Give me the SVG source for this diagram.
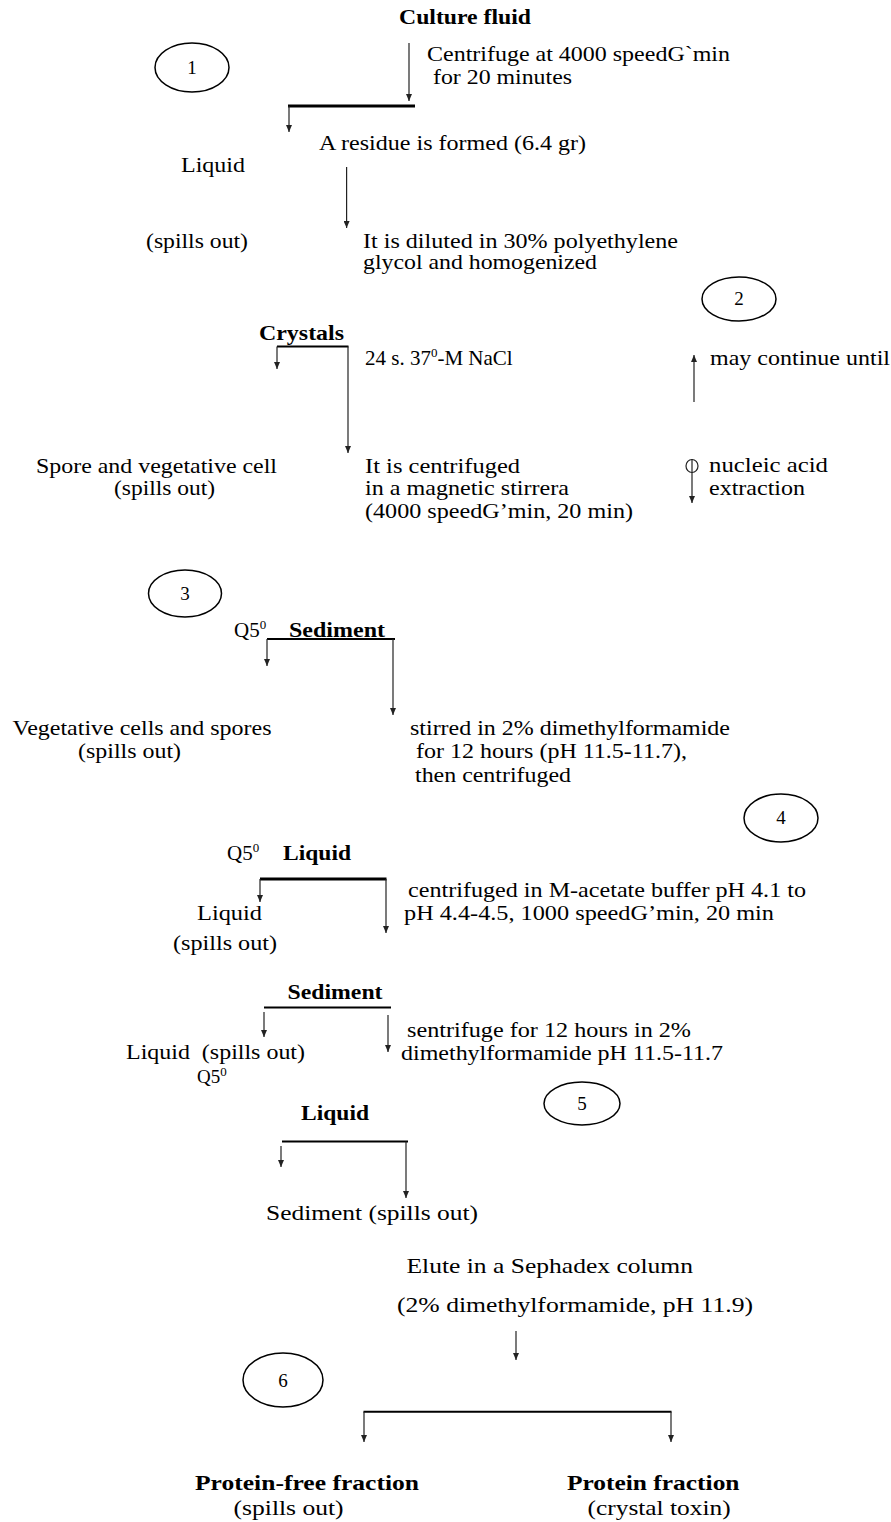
<svg xmlns="http://www.w3.org/2000/svg" width="891" height="1522" viewBox="0 0 891 1522">
<style>
.t{font-family:"Liberation Serif","Times New Roman",serif;font-size:21px;fill:#000}
.b{font-weight:bold}
.n{font-size:19px;text-anchor:middle}
.el{fill:none;stroke:#000;stroke-width:1.5}
.ln{stroke:#222;stroke-width:1.2;fill:none}
.ar{marker-end:url(#ah)}
.bar{stroke:#000;fill:none}
.sup{font-size:13px}
</style>
<defs>
<marker id="ah" markerUnits="userSpaceOnUse" markerWidth="7" markerHeight="6" refX="7" refY="3" orient="auto">
<path d="M0,0 L7,3 L0,6 z" fill="#222"/>
</marker>
</defs>
<rect width="891" height="1522" fill="#fff"/>
<g id="connectors">
<line class="ln ar" x1="409" y1="43" x2="409" y2="101"/>
<line class="bar" stroke-width="3" x1="288" y1="106" x2="415" y2="106"/>
<line class="ln ar" x1="289" y1="106" x2="289" y2="132"/>
<line class="ln ar" x1="346.6" y1="167" x2="346.6" y2="228"/>
<line class="bar" stroke-width="2" x1="277" y1="346.5" x2="348.5" y2="346.5"/>
<line class="ln ar" x1="277" y1="346.5" x2="277" y2="369"/>
<line class="ln ar" x1="348" y1="346.5" x2="348" y2="453"/>
<line class="ln ar" x1="694" y1="402" x2="694" y2="355"/>
<ellipse class="ln" cx="692" cy="466" rx="6" ry="6.5"/>
<line class="ln ar" x1="692" y1="459" x2="692" y2="503"/>
<line class="bar" stroke-width="1.8" x1="267" y1="639" x2="395" y2="639"/>
<line class="ln ar" x1="267" y1="639" x2="267" y2="666"/>
<line class="ln ar" x1="393" y1="639" x2="393" y2="715"/>
<line class="bar" stroke-width="3" x1="260" y1="879" x2="386.5" y2="879"/>
<line class="ln ar" x1="260" y1="879" x2="260" y2="902"/>
<line class="ln ar" x1="386" y1="879" x2="386" y2="933"/>
<line class="bar" stroke-width="2" x1="264" y1="1007.5" x2="391" y2="1007.5"/>
<line class="ln ar" x1="264" y1="1012" x2="264" y2="1037"/>
<line class="ln ar" x1="388" y1="1015" x2="388" y2="1052"/>
<line class="bar" stroke-width="2" x1="282" y1="1141.5" x2="408" y2="1141.5"/>
<line class="ln ar" x1="281" y1="1146" x2="281" y2="1167"/>
<line class="ln ar" x1="406" y1="1141.5" x2="406" y2="1198"/>
<line class="ln ar" x1="516" y1="1331" x2="516" y2="1360"/>
<line class="bar" stroke-width="2" x1="363.5" y1="1411.7" x2="671.5" y2="1411.7"/>
<line class="ln ar" x1="364" y1="1411.7" x2="364" y2="1442"/>
<line class="ln ar" x1="671" y1="1411.7" x2="671" y2="1442"/>
</g>
<g id="n_culture"><text class="t b" x="399" y="24" textLength="132" lengthAdjust="spacingAndGlyphs">Culture fluid</text></g>
<g id="n_centrifuge">
<text class="t" x="427" y="61" textLength="303" lengthAdjust="spacingAndGlyphs">Centrifuge at 4000 speedG`min</text>
<text class="t" x="433" y="84" textLength="139" lengthAdjust="spacingAndGlyphs">for 20 minutes</text>
</g>
<g id="n_step1"><ellipse class="el" cx="192" cy="67.5" rx="37" ry="24.5"/><text class="t n" x="192" y="74">1</text></g>
<g id="n_residue"><text class="t" x="319" y="150" textLength="267" lengthAdjust="spacingAndGlyphs">A residue is formed (6.4 gr)</text></g>
<g id="n_liquid1">
<text class="t" x="181" y="172" textLength="64" lengthAdjust="spacingAndGlyphs">Liquid</text>
<text class="t" x="146" y="248" textLength="102" lengthAdjust="spacingAndGlyphs">(spills out)</text>
</g>
<g id="n_diluted">
<text class="t" x="363" y="248" textLength="315" lengthAdjust="spacingAndGlyphs">It is diluted in 30% polyethylene</text>
<text class="t" x="363" y="269" textLength="234" lengthAdjust="spacingAndGlyphs">glycol and homogenized</text>
</g>
<g id="n_step2"><ellipse class="el" cx="739" cy="299" rx="37" ry="22"/><text class="t n" x="739" y="305">2</text></g>
<g id="n_crystals"><text class="t b" x="259" y="340" textLength="85" lengthAdjust="spacingAndGlyphs">Crystals</text></g>
<g id="n_nacl"><text class="t" x="365" y="365">24 s. 37<tspan class="sup" dy="-8">0</tspan><tspan dy="8">-M NaCl</tspan></text></g>
<g id="n_continue"><text class="t" x="710" y="365" textLength="180" lengthAdjust="spacingAndGlyphs">may continue until</text></g>
<g id="n_spore">
<text class="t" x="36" y="473" textLength="241" lengthAdjust="spacingAndGlyphs">Spore and vegetative cell</text>
<text class="t" x="114" y="495" textLength="101" lengthAdjust="spacingAndGlyphs">(spills out)</text>
</g>
<g id="n_centrifuged">
<text class="t" x="365" y="473" textLength="155" lengthAdjust="spacingAndGlyphs">It is centrifuged</text>
<text class="t" x="365" y="495" textLength="204" lengthAdjust="spacingAndGlyphs">in a magnetic stirrera</text>
<text class="t" x="365" y="518" textLength="268" lengthAdjust="spacingAndGlyphs">(4000 speedG’min, 20 min)</text>
</g>
<g id="n_nucleic">
<text class="t" x="709" y="472" textLength="119" lengthAdjust="spacingAndGlyphs">nucleic acid</text>
<text class="t" x="709" y="495" textLength="96" lengthAdjust="spacingAndGlyphs">extraction</text>
</g>
<g id="n_step3"><ellipse class="el" cx="185" cy="593.5" rx="36.5" ry="23.5"/><text class="t n" x="185" y="600">3</text></g>
<g id="n_sediment1">
<text class="t" x="234" y="637">Q5<tspan class="sup" dy="-8">0</tspan></text>
<text class="t b" x="289" y="637" textLength="96" lengthAdjust="spacingAndGlyphs">Sediment</text>
</g>
<g id="n_veg">
<text class="t" x="12.5" y="735" textLength="259" lengthAdjust="spacingAndGlyphs">Vegetative cells and spores</text>
<text class="t" x="78" y="758" textLength="103" lengthAdjust="spacingAndGlyphs">(spills out)</text>
</g>
<g id="n_stirred">
<text class="t" x="410" y="735" textLength="320" lengthAdjust="spacingAndGlyphs">stirred in 2% dimethylformamide</text>
<text class="t" x="416" y="758" textLength="271" lengthAdjust="spacingAndGlyphs">for 12 hours (pH 11.5-11.7),</text>
<text class="t" x="415" y="782" textLength="156" lengthAdjust="spacingAndGlyphs">then centrifuged</text>
</g>
<g id="n_step4"><ellipse class="el" cx="781" cy="818" rx="37" ry="24"/><text class="t n" x="781" y="824">4</text></g>
<g id="n_liquid2">
<text class="t" x="227" y="860">Q5<tspan class="sup" dy="-8">0</tspan></text>
<text class="t b" x="283" y="860" textLength="68" lengthAdjust="spacingAndGlyphs">Liquid</text>
</g>
<g id="n_acetate">
<text class="t" x="408" y="897" textLength="398" lengthAdjust="spacingAndGlyphs">centrifuged in M-acetate buffer pH 4.1 to</text>
<text class="t" x="404" y="920" textLength="370" lengthAdjust="spacingAndGlyphs">pH 4.4-4.5, 1000 speedG’min, 20 min</text>
</g>
<g id="n_liquid3">
<text class="t" x="197" y="920" textLength="65" lengthAdjust="spacingAndGlyphs">Liquid</text>
<text class="t" x="173" y="950" textLength="104" lengthAdjust="spacingAndGlyphs">(spills out)</text>
</g>
<g id="n_sediment2"><text class="t b" x="287.5" y="999" textLength="95" lengthAdjust="spacingAndGlyphs">Sediment</text></g>
<g id="n_liquid4">
<text class="t" x="126" y="1059" textLength="179" lengthAdjust="spacingAndGlyphs" xml:space="preserve">Liquid  (spills out)</text>
<text class="t" x="197" y="1083" style="font-size:19px">Q5<tspan class="sup" dy="-7">0</tspan></text>
</g>
<g id="n_sentrifuge">
<text class="t" x="407" y="1037" textLength="284" lengthAdjust="spacingAndGlyphs">sentrifuge for 12 hours in 2%</text>
<text class="t" x="401" y="1060" textLength="322" lengthAdjust="spacingAndGlyphs">dimethylformamide pH 11.5-11.7</text>
</g>
<g id="n_step5"><ellipse class="el" cx="582" cy="1103.5" rx="38" ry="21.5"/><text class="t n" x="582" y="1110">5</text></g>
<g id="n_liquid5"><text class="t b" x="301" y="1120" textLength="68" lengthAdjust="spacingAndGlyphs">Liquid</text></g>
<g id="n_sediment3"><text class="t" x="266" y="1220" textLength="212" lengthAdjust="spacingAndGlyphs">Sediment (spills out)</text></g>
<g id="n_elute">
<text class="t" x="406.5" y="1273" textLength="286.5" lengthAdjust="spacingAndGlyphs">Elute in a Sephadex column</text>
<text class="t" x="397" y="1312" textLength="356" lengthAdjust="spacingAndGlyphs">(2% dimethylformamide, pH 11.9)</text>
</g>
<g id="n_step6"><ellipse class="el" cx="283" cy="1380" rx="40" ry="27"/><text class="t n" x="283" y="1387">6</text></g>
<g id="n_protfree">
<text class="t b" x="195" y="1490" textLength="224" lengthAdjust="spacingAndGlyphs">Protein-free fraction</text>
<text class="t" x="233.6" y="1515" textLength="110" lengthAdjust="spacingAndGlyphs">(spills out)</text>
</g>
<g id="n_prot">
<text class="t b" x="567" y="1490" textLength="172.5" lengthAdjust="spacingAndGlyphs">Protein fraction</text>
<text class="t" x="587.6" y="1515" textLength="143" lengthAdjust="spacingAndGlyphs">(crystal toxin)</text>
</g>
</svg>
